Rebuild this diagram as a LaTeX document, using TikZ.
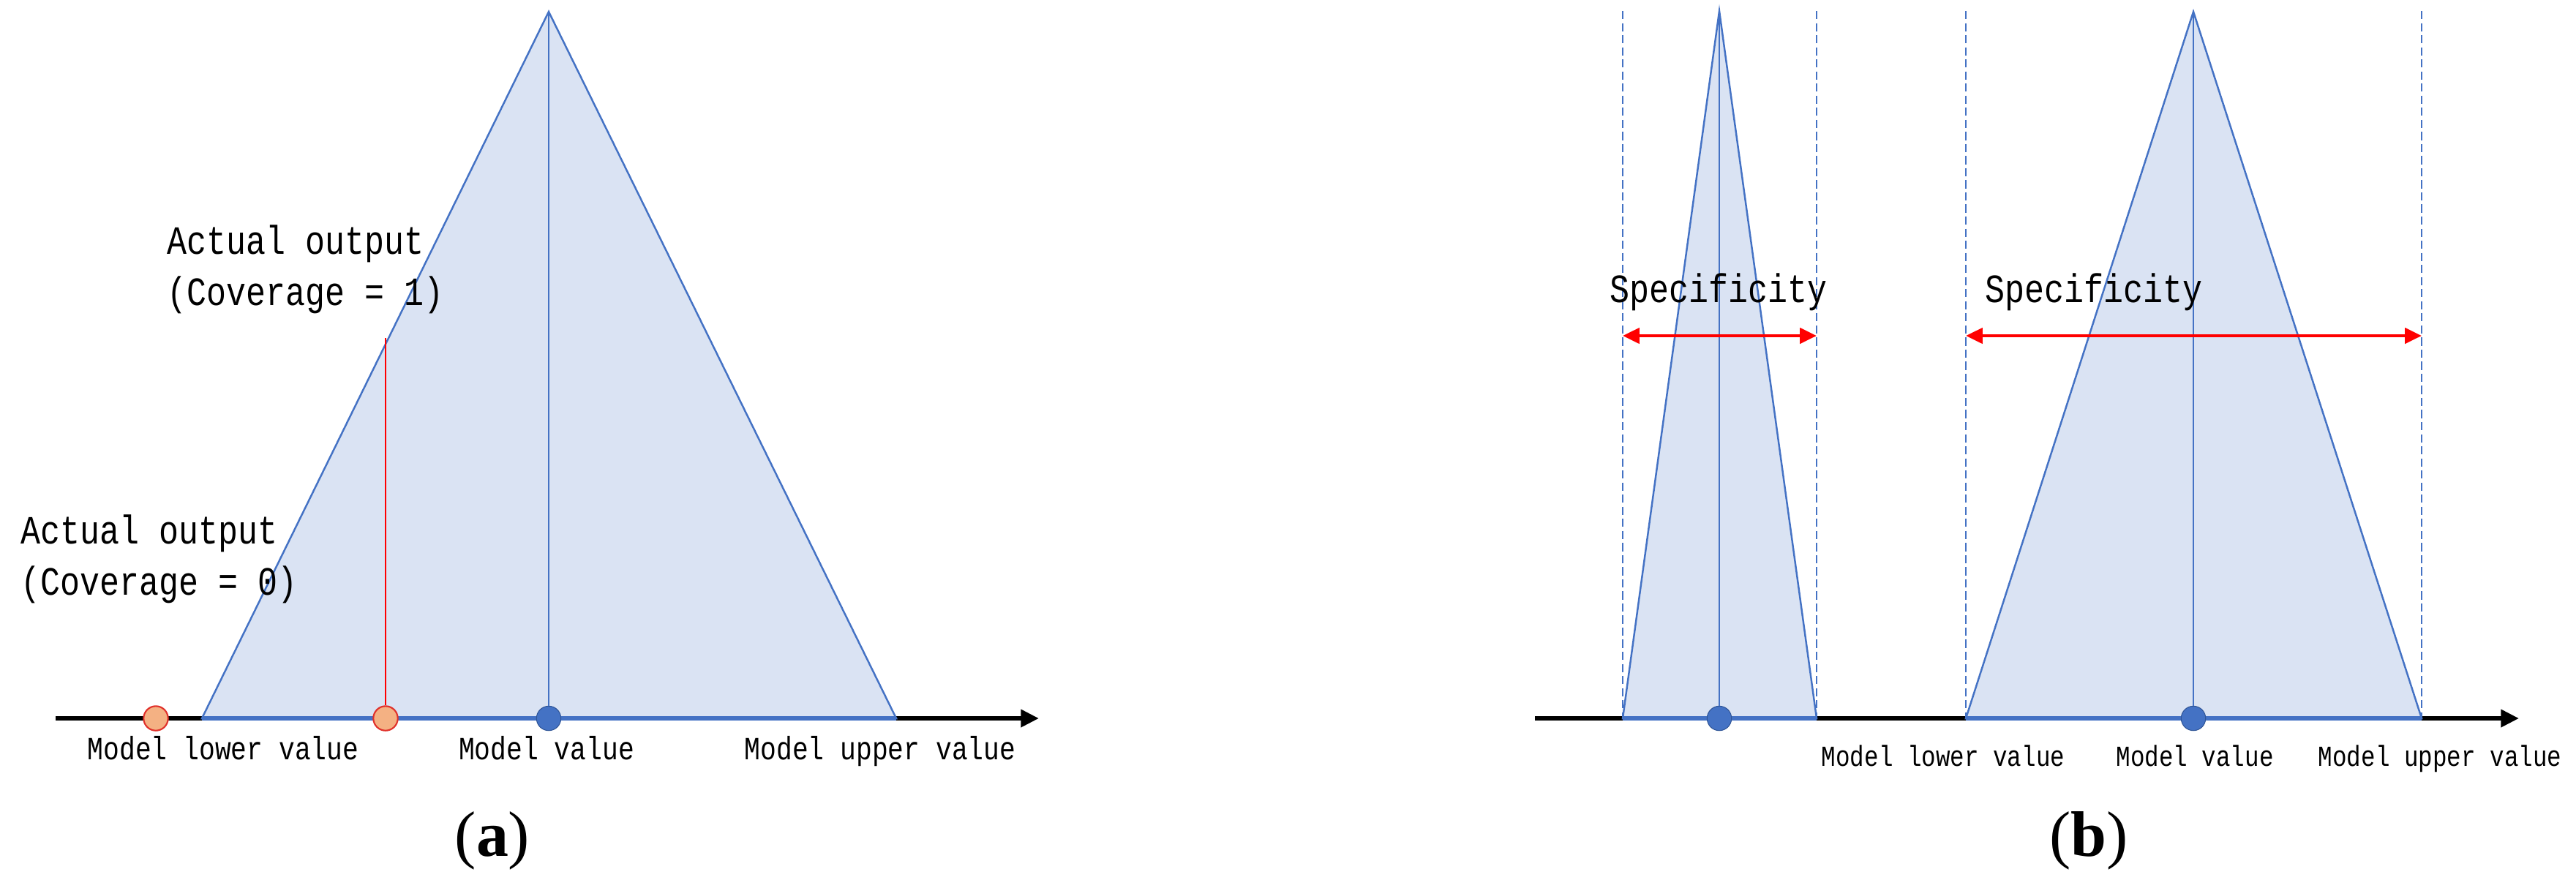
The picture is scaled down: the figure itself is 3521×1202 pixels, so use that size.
\documentclass[tikz,border=0pt]{standalone}
\usepackage{fontspec}
\setmainfont{Liberation Serif}
\newfontfamily\labfont[FakeStretch=0.82]{Liberation Mono}
\usetikzlibrary{arrows.meta}
\definecolor{tfill}{HTML}{DAE3F3}
\definecolor{tline}{HTML}{4472C4}
\definecolor{dotfill}{HTML}{4472C4}
\definecolor{dotline}{HTML}{2F5597}
\definecolor{ofill}{HTML}{F4B183}
\definecolor{oline}{HTML}{E0302A}
\definecolor{rline}{HTML}{FF0000}
\begin{document}
\begin{tikzpicture}[x=0.01cm,y=-0.01cm,
  axis/.style={line width=1.7pt,-{Triangle[length=7pt,width=6.6pt]}},
  tri/.style={fill=tfill,draw=tline,line width=0.7pt,line join=miter},
  basel/.style={draw=tline,line width=1.5pt},
  cline/.style={draw=tline,line width=0.6pt},
  dline/.style={draw=tline,line width=0.6pt,dash pattern=on 3.2pt off 1.5pt},
  bdot/.style={circle,fill=dotfill,draw=dotline,line width=0.3pt,minimum size=9.5pt,inner sep=0pt},
  odot/.style={circle,fill=ofill,draw=oline,line width=0.6pt,minimum size=9.5pt,inner sep=0pt},
  redl/.style={draw=rline,line width=0.7pt},
  reda/.style={draw=rline,line width=1.2pt,{Triangle[length=6.5pt,width=6pt]}-{Triangle[length=6.5pt,width=6pt]}},
  bigtxt/.style={inner sep=0pt,align=left,font=\labfont\fontsize{15.6pt}{19.9pt}\selectfont},
  labA/.style={inner sep=0pt,anchor=base,font=\labfont\fontsize{12.6pt}{15pt}\selectfont},
  labB/.style={inner sep=0pt,anchor=base,font=\labfont\fontsize{11.3pt}{14pt}\selectfont},
  captxt/.style={inner sep=0pt,anchor=base,font=\fontsize{25pt}{30pt}\selectfont}
]
\path[use as bounding box] (0,0) rectangle (3521,1202);

% ---------- panel (a)
\coordinate (aL) at (76,982);
\coordinate (aR) at (1420,982);
\coordinate (a1) at (276,982);
\coordinate (a2) at (1225,982);
\coordinate (aT) at (750,16);
\draw[axis] (aL) -- (aR);
\filldraw[tri] (a1) -- (aT) -- (a2) -- cycle;
\draw[basel] (a1) -- (a2);
\node[bdot] (amv) at (750,982) {};
\draw[cline] (aT) -- (amv);
\node[odot] (ao1) at (213,982) {};
\node[odot] (ao2) at (527,982) {};
\coordinate (aRt) at (527,462);
\draw[redl] (ao2) -- (aRt);

\node[bigtxt,anchor=base west] (t1) at (228,417) {Actual output\\(Coverage = 1)};
\node[bigtxt,anchor=base west] (t0) at (28,813) {Actual output\\(Coverage = 0)};
\node[labA] (la1) at (305,1038) {Model lower value};
\node[labA] (la2) at (747,1038) {Model value};
\node[labA] (la3) at (1203,1038) {Model upper value};
\node[captxt] (ca) at (673,1170) {(\textbf{a})};

% ---------- panel (b)
\coordinate (bL) at (2098,982);
\coordinate (bR) at (3443,982);
\coordinate (s1) at (2218,982);
\coordinate (s2) at (2483,982);
\coordinate (sT) at (2350,15);
\coordinate (g1) at (2687,982);
\coordinate (g2) at (3310,982);
\coordinate (gT) at (2998,16);
\coordinate (s1t) at (2218,15);
\coordinate (s2t) at (2483,15);
\coordinate (g1t) at (2687,15);
\coordinate (g2t) at (3310,15);
\draw[axis] (bL) -- (bR);
\filldraw[tri] (s1) -- (sT) -- (s2) -- cycle;
\filldraw[tri] (g1) -- (gT) -- (g2) -- cycle;
\draw[basel] (s1) -- (s2);
\draw[basel] (g1) -- (g2);
\draw[dline] (s1t) -- (s1);
\draw[dline] (s2t) -- (s2);
\draw[dline] (g1t) -- (g1);
\draw[dline] (g2t) -- (g2);
\node[bdot] (bsv) at (2350,982) {};
\node[bdot] (bgv) at (2998,982) {};
\draw[cline] (sT) -- (bsv);
\draw[cline] (gT) -- (bgv);
\coordinate (sa1) at (2218,459);
\coordinate (sa2) at (2483,459);
\coordinate (ga1) at (2687,459);
\coordinate (ga2) at (3310,459);
\draw[reda] (sa1) -- (sa2);
\draw[reda] (ga1) -- (ga2);

\node[bigtxt,anchor=base] (sp1) at (2349,413) {Specificity};
\node[bigtxt,anchor=base west] (sp2) at (2713,413) {Specificity};
\node[labB] (lb1) at (2656,1047) {Model lower value};
\node[labB] (lb2) at (3000,1047) {Model value};
\node[labB] (lb3) at (3335,1047) {Model upper value};
\node[captxt] (cb) at (2855,1170) {(\textbf{b})};
\end{tikzpicture}
\end{document}
